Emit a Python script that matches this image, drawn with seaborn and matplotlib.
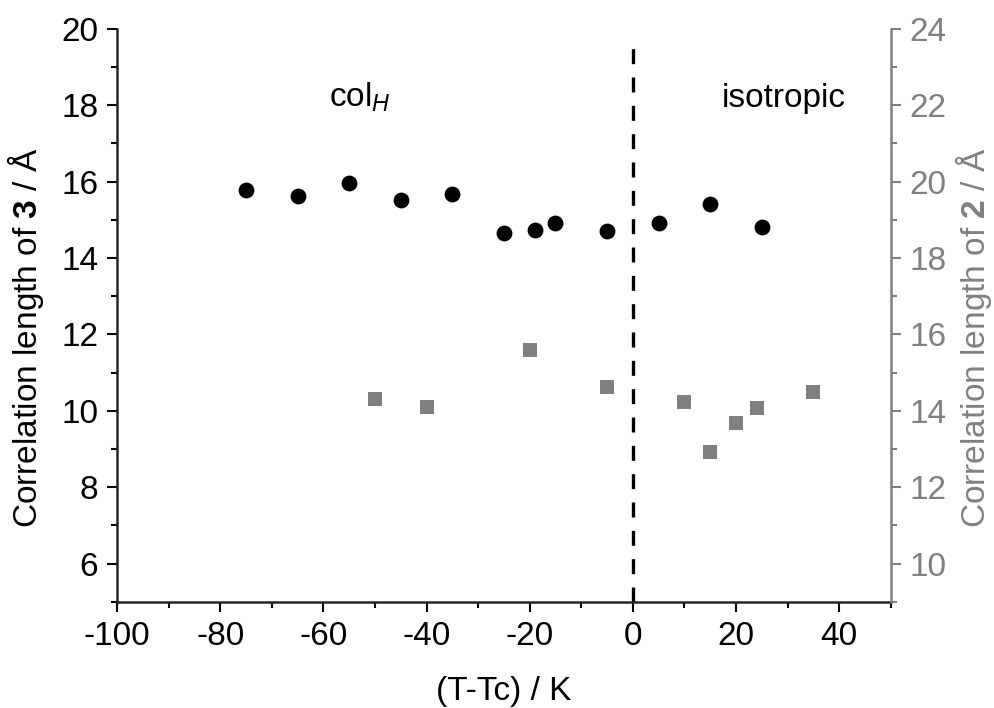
import pandas as pd
import seaborn as sns
import matplotlib
matplotlib.use('Agg')
import matplotlib.pyplot as plt
from matplotlib.ticker import MultipleLocator

sns.set_style('ticks')
plt.rcParams['font.family'] = ['Liberation Sans', 'DejaVu Sans']
plt.rcParams['mathtext.fontset'] = 'custom'
plt.rcParams['mathtext.rm'] = 'Liberation Sans'
plt.rcParams['mathtext.it'] = 'Liberation Sans:italic'
plt.rcParams['mathtext.bf'] = 'Liberation Sans:bold'
plt.rcParams['axes.unicode_minus'] = False
plt.rcParams['text.color'] = 'black'
plt.rcParams['axes.labelcolor'] = 'black'
plt.rcParams['xtick.color'] = 'black'
plt.rcParams['ytick.color'] = 'black'

# compound 3 (left axis, black circles)
t3 = [-75, -65, -55, -45, -35, -25, -19, -15, -5, 5, 15, 25]
xi3 = [15.78, 15.62, 15.95, 15.52, 15.66, 14.64, 14.73, 14.91, 14.71, 14.91, 15.40, 14.82]

# compound 2 (right axis, grey squares)
t2 = [-50, -40, -20, -5, 10, 15, 20, 24, 35]
xi2 = [14.31, 14.09, 15.59, 14.61, 14.24, 12.93, 13.67, 14.08, 14.49]

grey = '#808080'
fs = 24
d3 = pd.DataFrame({'t': t3, 'xi': xi3})
d2 = pd.DataFrame({'t': t2, 'xi': xi2})

fig = plt.figure(figsize=(9.94, 7.08), dpi=100)
ax = fig.add_axes([0.1177, 0.150, 0.7785, 0.8095])
ax2 = ax.twinx()

sns.scatterplot(data=d3, x='t', y='xi', ax=ax, color='black', marker='o', s=130,
                edgecolor='black', linewidth=0, zorder=3)
sns.scatterplot(data=d2, x='t', y='xi', ax=ax2, color=grey, marker='s', s=100,
                edgecolor=grey, linewidth=0, zorder=3)

# phase transition at Tc
ax.plot([0, 0], [5, 19.5], color='black', ls=(0, (4.5, 4)), lw=2.4)

ax.set_xlim(-100, 50)
ax.set_ylim(5, 20)
ax2.set_ylim(9, 24)

ax.xaxis.set_major_locator(MultipleLocator(20))
ax.xaxis.set_minor_locator(MultipleLocator(10))
ax.yaxis.set_major_locator(MultipleLocator(2))
ax.yaxis.set_minor_locator(MultipleLocator(1))
ax2.yaxis.set_major_locator(MultipleLocator(2))
ax2.yaxis.set_minor_locator(MultipleLocator(1))

for a in (ax, ax2):
    a.spines['top'].set_visible(False)
ax.spines['right'].set_visible(False)
ax2.spines['left'].set_visible(False)
ax2.spines['bottom'].set_visible(False)
ax.spines['left'].set_linewidth(1.8)
ax.spines['bottom'].set_linewidth(1.8)
ax2.spines['right'].set_linewidth(1.8)
ax2.spines['right'].set_color(grey)

ax.tick_params(axis='both', which='major', direction='out', length=7.5, width=1.5,
               labelsize=fs, color='black', labelcolor='black', pad=6)
ax.tick_params(axis='both', which='minor', direction='out', length=4, width=1.5, color='black')
ax2.tick_params(axis='y', which='major', direction='out', length=7.5, width=1.5,
                labelsize=fs, color=grey, labelcolor=grey, pad=6)
ax2.tick_params(axis='y', which='minor', direction='out', length=4, width=1.5, color=grey)

ax.set_xlabel('(T-Tc) / K', fontsize=fs)
ax.set_ylabel(r'Correlation length of $\mathbf{3}$ / Å', fontsize=fs)
ax2.set_ylabel(r'Correlation length of $\mathbf{2}$ / Å', fontsize=fs, color=grey)
ax.xaxis.set_label_coords(0.5, -0.13)
ax.yaxis.set_label_coords(-0.092, 0.46)
ax2.yaxis.set_label_coords(1.080, 0.46)

ax.text(-59, 17.95, r'col$_H$', fontsize=fs, ha='left', va='baseline')
ax.text(17.3, 17.95, 'isotropic', fontsize=fs, ha='left', va='baseline')

fig.savefig('out.png', dpi=100)
